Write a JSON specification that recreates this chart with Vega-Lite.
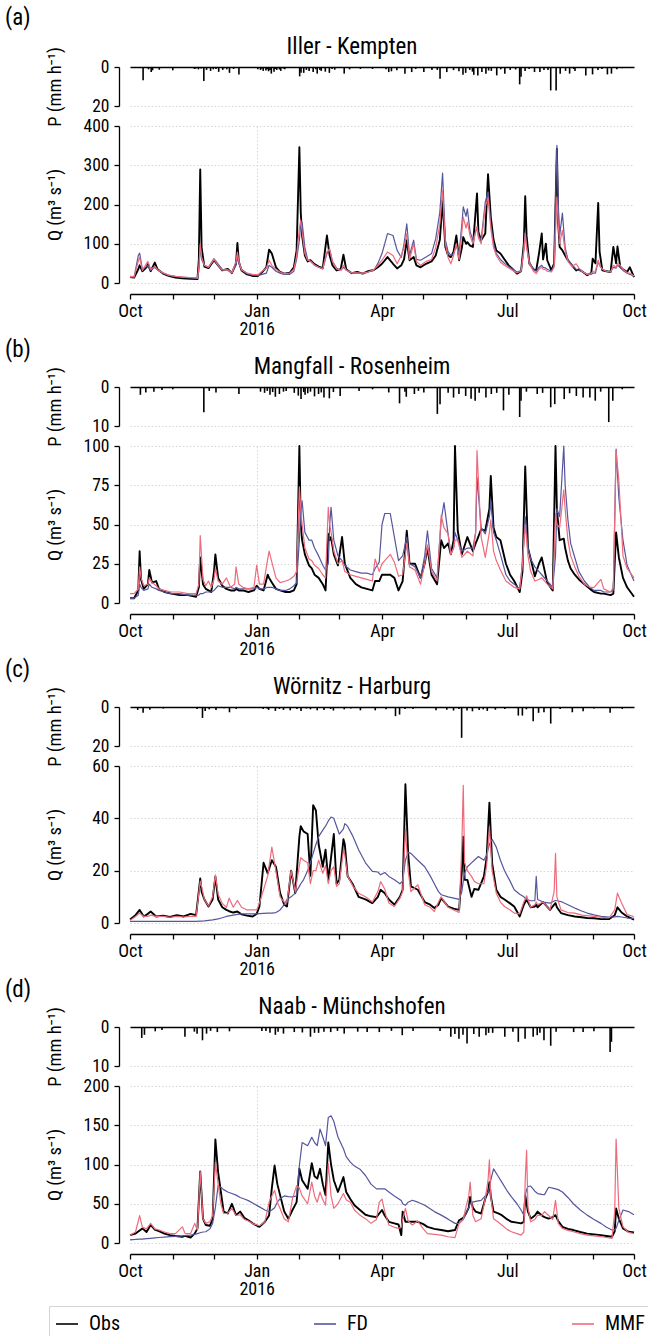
{
"$schema":"https://vega.github.io/schema/vega-lite/v6.json",
"padding":{"left":5,"top":6,"right":0,"bottom":0},
"background":"white",
"config":{
 "font":"Roboto Condensed, Liberation Sans Narrow, DejaVu Sans Condensed, Roboto, sans-serif",
 "view":{"stroke":null},
 "axis":{"domainColor":"#000","domainWidth":1.3,"tickColor":"#000","tickWidth":1.3,"tickSize":5,"labelColor":"#000","labelFontSize":19,"labelFlush":false,"labelOverlap":false,"titleColor":"#000","titleFontSize":18.5,"titleFontWeight":"normal","gridColor":"#cccccc","gridDash":[1.5,2],"gridWidth":0.8},
 "axisX":{"labelPadding":3,"labelFontSize":18},
 "axisY":{"labelPadding":5,"labelFontSize":17.5},
 "title":{"color":"#000","fontWeight":"normal"}
},
"datasets":{
"pa":[{"t":"2015-10-07","p":6.8},{"t":"2015-10-11","p":1.2},{"t":"2015-10-13","p":2.6},{"t":"2015-10-14","p":1.7},{"t":"2015-10-19","p":1.4},{"t":"2015-10-29","p":1.7},{"t":"2015-11-14","p":1},{"t":"2015-11-15","p":0.8},{"t":"2015-11-17","p":1.2},{"t":"2015-11-19","p":0.8},{"t":"2015-11-21","p":7.2},{"t":"2015-11-23","p":1.5},{"t":"2015-11-26","p":2},{"t":"2015-11-28","p":1.2},{"t":"2015-11-30","p":1},{"t":"2015-12-02","p":2.5},{"t":"2015-12-05","p":1.5},{"t":"2015-12-06","p":0.7},{"t":"2015-12-08","p":1.2},{"t":"2015-12-10","p":3},{"t":"2015-12-13","p":1},{"t":"2015-12-17","p":3.8},{"t":"2015-12-31","p":1.2},{"t":"2016-01-02","p":1.5},{"t":"2016-01-03","p":0.9},{"t":"2016-01-04","p":2},{"t":"2016-01-06","p":1.8},{"t":"2016-01-07","p":1.2},{"t":"2016-01-08","p":2.2},{"t":"2016-01-09","p":1.5},{"t":"2016-01-10","p":3.4},{"t":"2016-01-12","p":2.4},{"t":"2016-01-13","p":1},{"t":"2016-01-14","p":1.5},{"t":"2016-01-16","p":1.3},{"t":"2016-01-17","p":2},{"t":"2016-01-19","p":0.8},{"t":"2016-01-20","p":1.2},{"t":"2016-01-31","p":4.8},{"t":"2016-02-01","p":3},{"t":"2016-02-03","p":3},{"t":"2016-02-05","p":1.5},{"t":"2016-02-07","p":2},{"t":"2016-02-10","p":2.6},{"t":"2016-02-12","p":1.2},{"t":"2016-02-13","p":3.4},{"t":"2016-02-15","p":1.5},{"t":"2016-02-16","p":2},{"t":"2016-02-19","p":2.4},{"t":"2016-02-22","p":3},{"t":"2016-02-24","p":1},{"t":"2016-02-26","p":1.4},{"t":"2016-03-04","p":3.4},{"t":"2016-03-08","p":1.2},{"t":"2016-03-16","p":1},{"t":"2016-03-25","p":1},{"t":"2016-04-04","p":1.2},{"t":"2016-04-06","p":2.6},{"t":"2016-04-08","p":2.2},{"t":"2016-04-12","p":1.7},{"t":"2016-04-18","p":3.4},{"t":"2016-04-23","p":2.6},{"t":"2016-04-26","p":1},{"t":"2016-05-02","p":2.6},{"t":"2016-05-08","p":1.5},{"t":"2016-05-12","p":1.5},{"t":"2016-05-14","p":6},{"t":"2016-05-19","p":2.6},{"t":"2016-05-24","p":1.6},{"t":"2016-05-28","p":2.2},{"t":"2016-05-31","p":4},{"t":"2016-06-02","p":3},{"t":"2016-06-05","p":1.5},{"t":"2016-06-07","p":2.4},{"t":"2016-06-08","p":4},{"t":"2016-06-11","p":4.3},{"t":"2016-06-14","p":2.5},{"t":"2016-06-17","p":3.4},{"t":"2016-06-19","p":1.8},{"t":"2016-06-21","p":2},{"t":"2016-06-25","p":4.3},{"t":"2016-06-28","p":1.2},{"t":"2016-07-01","p":3.4},{"t":"2016-07-05","p":1.5},{"t":"2016-07-09","p":1.3},{"t":"2016-07-12","p":8.9},{"t":"2016-07-13","p":5},{"t":"2016-07-16","p":2},{"t":"2016-07-19","p":1},{"t":"2016-07-23","p":2.6},{"t":"2016-07-27","p":2.6},{"t":"2016-07-30","p":1.5},{"t":"2016-08-02","p":1.5},{"t":"2016-08-04","p":12},{"t":"2016-08-08","p":12},{"t":"2016-08-11","p":3.4},{"t":"2016-08-15","p":2},{"t":"2016-08-18","p":3.4},{"t":"2016-08-21","p":1},{"t":"2016-08-22","p":2},{"t":"2016-08-30","p":4.3},{"t":"2016-09-04","p":3.8},{"t":"2016-09-08","p":1.5},{"t":"2016-09-11","p":1},{"t":"2016-09-15","p":3.8},{"t":"2016-09-18","p":3.4},{"t":"2016-09-22","p":1.2},{"t":"2016-09-26","p":0.6}],
"qa":[{"t":"2015-10-01","Obs":15,"FD":14,"MMF":17},{"t":"2015-10-04","Obs":14,"FD":15,"MMF":16},{"t":"2015-10-07","Obs":35,"FD":70,"MMF":55},{"t":"2015-10-08","Obs":45,"FD":76,"MMF":65},{"t":"2015-10-10","Obs":30,"FD":35,"MMF":32},{"t":"2015-10-13","Obs":40,"FD":42,"MMF":50},{"t":"2015-10-14","Obs":48,"FD":45,"MMF":55},{"t":"2015-10-16","Obs":30,"FD":32,"MMF":35},{"t":"2015-10-19","Obs":52,"FD":40,"MMF":42},{"t":"2015-10-21","Obs":35,"FD":33,"MMF":34},{"t":"2015-10-25","Obs":24,"FD":25,"MMF":26},{"t":"2015-10-29","Obs":18,"FD":20,"MMF":20},{"t":"2015-11-03","Obs":14,"FD":17,"MMF":17},{"t":"2015-11-08","Obs":12,"FD":15,"MMF":15},{"t":"2015-11-14","Obs":11,"FD":13,"MMF":14},{"t":"2015-11-19","Obs":10,"FD":12,"MMF":13},{"t":"2015-11-20","Obs":60,"FD":30,"MMF":40},{"t":"2015-11-21","Obs":289,"FD":95,"MMF":100},{"t":"2015-11-22","Obs":90,"FD":60,"MMF":65},{"t":"2015-11-24","Obs":42,"FD":45,"MMF":45},{"t":"2015-11-27","Obs":38,"FD":40,"MMF":40},{"t":"2015-12-01","Obs":58,"FD":62,"MMF":60},{"t":"2015-12-04","Obs":45,"FD":48,"MMF":45},{"t":"2015-12-07","Obs":32,"FD":35,"MMF":33},{"t":"2015-12-11","Obs":36,"FD":32,"MMF":34},{"t":"2015-12-14","Obs":25,"FD":26,"MMF":26},{"t":"2015-12-17","Obs":50,"FD":45,"MMF":55},{"t":"2015-12-18","Obs":102,"FD":70,"MMF":79},{"t":"2015-12-19","Obs":55,"FD":50,"MMF":55},{"t":"2015-12-21","Obs":32,"FD":35,"MMF":33},{"t":"2015-12-25","Obs":22,"FD":24,"MMF":25},{"t":"2015-12-29","Obs":18,"FD":20,"MMF":22},{"t":"2016-01-02","Obs":18,"FD":19,"MMF":21},{"t":"2016-01-05","Obs":28,"FD":22,"MMF":30},{"t":"2016-01-08","Obs":40,"FD":25,"MMF":38},{"t":"2016-01-10","Obs":85,"FD":45,"MMF":58},{"t":"2016-01-12","Obs":75,"FD":40,"MMF":45},{"t":"2016-01-15","Obs":40,"FD":30,"MMF":35},{"t":"2016-01-18","Obs":28,"FD":25,"MMF":28},{"t":"2016-01-21","Obs":24,"FD":22,"MMF":24},{"t":"2016-01-25","Obs":26,"FD":22,"MMF":25},{"t":"2016-01-28","Obs":40,"FD":30,"MMF":35},{"t":"2016-01-30","Obs":83,"FD":60,"MMF":70},{"t":"2016-02-01","Obs":346,"FD":110,"MMF":140},{"t":"2016-02-02","Obs":180,"FD":150,"MMF":160},{"t":"2016-02-03","Obs":120,"FD":154,"MMF":130},{"t":"2016-02-05","Obs":70,"FD":90,"MMF":75},{"t":"2016-02-07","Obs":55,"FD":60,"MMF":58},{"t":"2016-02-09","Obs":58,"FD":55,"MMF":56},{"t":"2016-02-12","Obs":48,"FD":45,"MMF":46},{"t":"2016-02-15","Obs":42,"FD":40,"MMF":40},{"t":"2016-02-18","Obs":38,"FD":36,"MMF":36},{"t":"2016-02-21","Obs":121,"FD":75,"MMF":80},{"t":"2016-02-23","Obs":70,"FD":85,"MMF":87},{"t":"2016-02-25","Obs":45,"FD":55,"MMF":55},{"t":"2016-02-28","Obs":32,"FD":38,"MMF":36},{"t":"2016-03-02","Obs":35,"FD":32,"MMF":32},{"t":"2016-03-04","Obs":72,"FD":40,"MMF":45},{"t":"2016-03-06","Obs":35,"FD":33,"MMF":33},{"t":"2016-03-10","Obs":25,"FD":26,"MMF":26},{"t":"2016-03-14","Obs":28,"FD":25,"MMF":26},{"t":"2016-03-18","Obs":24,"FD":24,"MMF":25},{"t":"2016-03-22","Obs":30,"FD":28,"MMF":28},{"t":"2016-03-26","Obs":33,"FD":32,"MMF":34},{"t":"2016-03-29","Obs":40,"FD":50,"MMF":45},{"t":"2016-04-01","Obs":49,"FD":75,"MMF":58},{"t":"2016-04-05","Obs":66,"FD":126,"MMF":79},{"t":"2016-04-09","Obs":49,"FD":121,"MMF":70},{"t":"2016-04-12","Obs":37,"FD":83,"MMF":49},{"t":"2016-04-15","Obs":45,"FD":65,"MMF":70},{"t":"2016-04-17","Obs":60,"FD":100,"MMF":90},{"t":"2016-04-19","Obs":109,"FD":151,"MMF":126},{"t":"2016-04-21","Obs":58,"FD":70,"MMF":60},{"t":"2016-04-24","Obs":66,"FD":109,"MMF":100},{"t":"2016-04-26","Obs":45,"FD":60,"MMF":55},{"t":"2016-04-29","Obs":40,"FD":58,"MMF":45},{"t":"2016-05-03","Obs":49,"FD":66,"MMF":55},{"t":"2016-05-07","Obs":55,"FD":75,"MMF":60},{"t":"2016-05-10","Obs":70,"FD":113,"MMF":90},{"t":"2016-05-13","Obs":110,"FD":180,"MMF":150},{"t":"2016-05-15","Obs":210,"FD":280,"MMF":236},{"t":"2016-05-17","Obs":92,"FD":110,"MMF":100},{"t":"2016-05-19","Obs":70,"FD":80,"MMF":65},{"t":"2016-05-21","Obs":66,"FD":70,"MMF":49},{"t":"2016-05-23","Obs":80,"FD":75,"MMF":70},{"t":"2016-05-25","Obs":121,"FD":95,"MMF":100},{"t":"2016-05-27","Obs":58,"FD":75,"MMF":60},{"t":"2016-05-29","Obs":90,"FD":150,"MMF":130},{"t":"2016-05-30","Obs":117,"FD":194,"MMF":168},{"t":"2016-06-01","Obs":100,"FD":170,"MMF":140},{"t":"2016-06-02","Obs":104,"FD":189,"MMF":155},{"t":"2016-06-04","Obs":95,"FD":130,"MMF":120},{"t":"2016-06-06","Obs":92,"FD":110,"MMF":100},{"t":"2016-06-09","Obs":228,"FD":143,"MMF":143},{"t":"2016-06-10","Obs":130,"FD":120,"MMF":115},{"t":"2016-06-12","Obs":109,"FD":110,"MMF":100},{"t":"2016-06-15","Obs":126,"FD":206,"MMF":194},{"t":"2016-06-17","Obs":277,"FD":232,"MMF":219},{"t":"2016-06-19","Obs":168,"FD":150,"MMF":140},{"t":"2016-06-21","Obs":110,"FD":100,"MMF":90},{"t":"2016-06-23","Obs":83,"FD":75,"MMF":70},{"t":"2016-06-26","Obs":75,"FD":60,"MMF":53},{"t":"2016-06-29","Obs":60,"FD":50,"MMF":45},{"t":"2016-07-02","Obs":45,"FD":42,"MMF":38},{"t":"2016-07-05","Obs":35,"FD":35,"MMF":32},{"t":"2016-07-08","Obs":24,"FD":28,"MMF":26},{"t":"2016-07-11","Obs":30,"FD":32,"MMF":30},{"t":"2016-07-13","Obs":100,"FD":90,"MMF":80},{"t":"2016-07-14","Obs":221,"FD":130,"MMF":126},{"t":"2016-07-15","Obs":120,"FD":95,"MMF":90},{"t":"2016-07-17","Obs":49,"FD":55,"MMF":50},{"t":"2016-07-20","Obs":35,"FD":35,"MMF":30},{"t":"2016-07-22","Obs":32,"FD":30,"MMF":24},{"t":"2016-07-24","Obs":75,"FD":40,"MMF":35},{"t":"2016-07-26","Obs":126,"FD":45,"MMF":40},{"t":"2016-07-27","Obs":60,"FD":40,"MMF":35},{"t":"2016-07-29","Obs":100,"FD":38,"MMF":33},{"t":"2016-07-30","Obs":58,"FD":35,"MMF":30},{"t":"2016-08-02","Obs":32,"FD":30,"MMF":28},{"t":"2016-08-04","Obs":50,"FD":45,"MMF":40},{"t":"2016-08-06","Obs":342,"FD":351,"MMF":219},{"t":"2016-08-07","Obs":150,"FD":200,"MMF":150},{"t":"2016-08-08","Obs":92,"FD":120,"MMF":100},{"t":"2016-08-10","Obs":83,"FD":178,"MMF":134},{"t":"2016-08-12","Obs":70,"FD":90,"MMF":80},{"t":"2016-08-14","Obs":58,"FD":60,"MMF":55},{"t":"2016-08-17","Obs":45,"FD":45,"MMF":42},{"t":"2016-08-20","Obs":32,"FD":35,"MMF":49},{"t":"2016-08-22","Obs":35,"FD":32,"MMF":38},{"t":"2016-08-25","Obs":28,"FD":28,"MMF":28},{"t":"2016-08-28","Obs":20,"FD":22,"MMF":22},{"t":"2016-08-31","Obs":25,"FD":22,"MMF":24},{"t":"2016-09-01","Obs":62,"FD":25,"MMF":30},{"t":"2016-09-03","Obs":50,"FD":25,"MMF":30},{"t":"2016-09-05","Obs":204,"FD":55,"MMF":58},{"t":"2016-09-06","Obs":80,"FD":45,"MMF":45},{"t":"2016-09-08","Obs":32,"FD":35,"MMF":35},{"t":"2016-09-11","Obs":30,"FD":30,"MMF":30},{"t":"2016-09-14","Obs":28,"FD":28,"MMF":28},{"t":"2016-09-16","Obs":92,"FD":40,"MMF":45},{"t":"2016-09-18","Obs":50,"FD":38,"MMF":40},{"t":"2016-09-19","Obs":93,"FD":45,"MMF":50},{"t":"2016-09-21","Obs":41,"FD":40,"MMF":45},{"t":"2016-09-23","Obs":35,"FD":32,"MMF":35},{"t":"2016-09-26","Obs":28,"FD":25,"MMF":26},{"t":"2016-09-28","Obs":40,"FD":22,"MMF":25},{"t":"2016-10-01","Obs":15,"FD":18,"MMF":18}],
"pb":[{"t":"2015-10-05","p":2},{"t":"2015-10-09","p":1.4},{"t":"2015-10-15","p":1.2},{"t":"2015-10-21","p":0.8},{"t":"2015-10-29","p":0.6},{"t":"2015-11-21","p":6.5},{"t":"2015-11-25","p":1},{"t":"2015-11-30","p":1.4},{"t":"2015-12-17","p":1.8},{"t":"2016-01-02","p":1.2},{"t":"2016-01-05","p":1.5},{"t":"2016-01-07","p":1},{"t":"2016-01-09","p":2},{"t":"2016-01-11","p":1.3},{"t":"2016-01-13","p":2.5},{"t":"2016-01-16","p":1.8},{"t":"2016-01-19","p":1.2},{"t":"2016-01-21","p":1},{"t":"2016-01-27","p":1.5},{"t":"2016-01-30","p":2.2},{"t":"2016-02-01","p":3.1},{"t":"2016-02-03","p":1.3},{"t":"2016-02-04","p":2},{"t":"2016-02-06","p":1.6},{"t":"2016-02-08","p":1.2},{"t":"2016-02-11","p":2.4},{"t":"2016-02-14","p":1.8},{"t":"2016-02-16","p":1.4},{"t":"2016-02-18","p":2.7},{"t":"2016-02-22","p":2.9},{"t":"2016-02-25","p":1.3},{"t":"2016-03-01","p":2.3},{"t":"2016-03-15","p":1},{"t":"2016-03-25","p":0.6},{"t":"2016-04-06","p":1.4},{"t":"2016-04-14","p":4.2},{"t":"2016-04-18","p":1.2},{"t":"2016-04-19","p":2.5},{"t":"2016-04-25","p":1.8},{"t":"2016-04-28","p":1},{"t":"2016-05-02","p":1.4},{"t":"2016-05-12","p":6.9},{"t":"2016-05-14","p":4.4},{"t":"2016-05-20","p":1.5},{"t":"2016-05-24","p":2.7},{"t":"2016-05-28","p":1.8},{"t":"2016-06-02","p":2.3},{"t":"2016-06-06","p":3},{"t":"2016-06-09","p":3.5},{"t":"2016-06-12","p":1.5},{"t":"2016-06-17","p":2.7},{"t":"2016-06-21","p":1.8},{"t":"2016-06-25","p":1.5},{"t":"2016-06-30","p":6},{"t":"2016-07-04","p":2},{"t":"2016-07-12","p":7.7},{"t":"2016-07-13","p":3.5},{"t":"2016-07-17","p":1.2},{"t":"2016-07-25","p":1.8},{"t":"2016-07-29","p":1.5},{"t":"2016-08-04","p":5.2},{"t":"2016-08-07","p":4.4},{"t":"2016-08-14","p":3.1},{"t":"2016-08-18","p":1.6},{"t":"2016-08-23","p":2.3},{"t":"2016-08-28","p":2.7},{"t":"2016-09-02","p":2.7},{"t":"2016-09-06","p":3.5},{"t":"2016-09-10","p":1.2},{"t":"2016-09-16","p":9},{"t":"2016-09-19","p":3.5},{"t":"2016-09-26","p":0.6}],
"qb":[{"t":"2015-10-01","Obs":3,"FD":3,"MMF":6},{"t":"2015-10-04","Obs":3,"FD":3,"MMF":6},{"t":"2015-10-07","Obs":8,"FD":5,"MMF":9},{"t":"2015-10-08","Obs":33,"FD":12,"MMF":23},{"t":"2015-10-09","Obs":15,"FD":10,"MMF":16},{"t":"2015-10-11","Obs":9,"FD":8,"MMF":11},{"t":"2015-10-14","Obs":12,"FD":9,"MMF":12},{"t":"2015-10-15","Obs":21,"FD":12,"MMF":16},{"t":"2015-10-17","Obs":13,"FD":10,"MMF":13},{"t":"2015-10-20","Obs":14,"FD":9,"MMF":11},{"t":"2015-10-22","Obs":9,"FD":8,"MMF":9},{"t":"2015-10-26","Obs":7,"FD":7,"MMF":8},{"t":"2015-10-31","Obs":6,"FD":6,"MMF":7},{"t":"2015-11-06","Obs":5,"FD":6,"MMF":7},{"t":"2015-11-12","Obs":5,"FD":5,"MMF":6},{"t":"2015-11-18","Obs":4,"FD":5,"MMF":6},{"t":"2015-11-20","Obs":10,"FD":5,"MMF":12},{"t":"2015-11-21","Obs":29,"FD":6,"MMF":43},{"t":"2015-11-23","Obs":12,"FD":6,"MMF":15},{"t":"2015-11-25","Obs":9,"FD":7,"MMF":11},{"t":"2015-11-27","Obs":8,"FD":7,"MMF":14},{"t":"2015-11-29","Obs":7,"FD":7,"MMF":10},{"t":"2015-12-01","Obs":20,"FD":8,"MMF":15},{"t":"2015-12-02","Obs":31,"FD":9,"MMF":22},{"t":"2015-12-04","Obs":16,"FD":11,"MMF":14},{"t":"2015-12-07","Obs":11,"FD":10,"MMF":12},{"t":"2015-12-10","Obs":9,"FD":10,"MMF":16},{"t":"2015-12-13","Obs":8,"FD":10,"MMF":10},{"t":"2015-12-16","Obs":8,"FD":9,"MMF":12},{"t":"2015-12-17","Obs":9,"FD":10,"MMF":23},{"t":"2015-12-19","Obs":8,"FD":9,"MMF":12},{"t":"2015-12-22","Obs":8,"FD":9,"MMF":10},{"t":"2015-12-26","Obs":7,"FD":9,"MMF":9},{"t":"2015-12-30","Obs":8,"FD":9,"MMF":10},{"t":"2016-01-01","Obs":11,"FD":10,"MMF":24},{"t":"2016-01-03","Obs":9,"FD":9,"MMF":12},{"t":"2016-01-06","Obs":8,"FD":9,"MMF":12},{"t":"2016-01-09","Obs":18,"FD":10,"MMF":28},{"t":"2016-01-10","Obs":16,"FD":10,"MMF":33},{"t":"2016-01-12","Obs":13,"FD":10,"MMF":26},{"t":"2016-01-15","Obs":9,"FD":9,"MMF":16},{"t":"2016-01-18","Obs":8,"FD":8,"MMF":13},{"t":"2016-01-22","Obs":7,"FD":8,"MMF":14},{"t":"2016-01-25","Obs":7,"FD":9,"MMF":15},{"t":"2016-01-28","Obs":8,"FD":11,"MMF":17},{"t":"2016-01-30","Obs":12,"FD":13,"MMF":20},{"t":"2016-02-01","Obs":100,"FD":40,"MMF":74},{"t":"2016-02-02","Obs":50,"FD":58,"MMF":60},{"t":"2016-02-03","Obs":40,"FD":65,"MMF":50},{"t":"2016-02-05","Obs":31,"FD":45,"MMF":35},{"t":"2016-02-08","Obs":24,"FD":40,"MMF":28},{"t":"2016-02-10","Obs":22,"FD":40,"MMF":27},{"t":"2016-02-12","Obs":18,"FD":35,"MMF":24},{"t":"2016-02-15","Obs":16,"FD":30,"MMF":22},{"t":"2016-02-18","Obs":12,"FD":24,"MMF":18},{"t":"2016-02-20","Obs":8,"FD":21,"MMF":16},{"t":"2016-02-22","Obs":44,"FD":25,"MMF":61},{"t":"2016-02-23","Obs":40,"FD":50,"MMF":50},{"t":"2016-02-24","Obs":42,"FD":61,"MMF":45},{"t":"2016-02-26","Obs":31,"FD":40,"MMF":33},{"t":"2016-02-29","Obs":24,"FD":30,"MMF":25},{"t":"2016-03-03","Obs":42,"FD":27,"MMF":27},{"t":"2016-03-05","Obs":25,"FD":24,"MMF":20},{"t":"2016-03-09","Obs":16,"FD":21,"MMF":18},{"t":"2016-03-13","Obs":12,"FD":20,"MMF":17},{"t":"2016-03-17","Obs":10,"FD":19,"MMF":16},{"t":"2016-03-21","Obs":9,"FD":19,"MMF":15},{"t":"2016-03-25","Obs":8,"FD":18,"MMF":14},{"t":"2016-03-27","Obs":14,"FD":22,"MMF":28},{"t":"2016-03-30","Obs":14,"FD":26,"MMF":20},{"t":"2016-04-01","Obs":18,"FD":50,"MMF":25},{"t":"2016-04-03","Obs":18,"FD":57,"MMF":27},{"t":"2016-04-07","Obs":18,"FD":57,"MMF":31},{"t":"2016-04-10","Obs":16,"FD":42,"MMF":26},{"t":"2016-04-13","Obs":8,"FD":27,"MMF":17},{"t":"2016-04-16","Obs":14,"FD":30,"MMF":18},{"t":"2016-04-19","Obs":46,"FD":42,"MMF":38},{"t":"2016-04-21","Obs":25,"FD":25,"MMF":23},{"t":"2016-04-25","Obs":25,"FD":23,"MMF":21},{"t":"2016-04-29","Obs":16,"FD":16,"MMF":12},{"t":"2016-05-02","Obs":25,"FD":30,"MMF":25},{"t":"2016-05-04","Obs":35,"FD":46,"MMF":37},{"t":"2016-05-07","Obs":18,"FD":22,"MMF":20},{"t":"2016-05-11","Obs":12,"FD":16,"MMF":14},{"t":"2016-05-14","Obs":40,"FD":53,"MMF":56},{"t":"2016-05-16","Obs":35,"FD":64,"MMF":48},{"t":"2016-05-19","Obs":38,"FD":44,"MMF":44},{"t":"2016-05-21","Obs":31,"FD":31,"MMF":31},{"t":"2016-05-23","Obs":40,"FD":35,"MMF":35},{"t":"2016-05-24","Obs":100,"FD":45,"MMF":40},{"t":"2016-05-26","Obs":46,"FD":40,"MMF":40},{"t":"2016-05-29","Obs":31,"FD":33,"MMF":29},{"t":"2016-06-02","Obs":42,"FD":35,"MMF":33},{"t":"2016-06-06","Obs":33,"FD":35,"MMF":30},{"t":"2016-06-08","Obs":38,"FD":45,"MMF":45},{"t":"2016-06-09","Obs":40,"FD":80,"MMF":97},{"t":"2016-06-12","Obs":47,"FD":48,"MMF":42},{"t":"2016-06-15","Obs":46,"FD":44,"MMF":29},{"t":"2016-06-18","Obs":60,"FD":55,"MMF":45},{"t":"2016-06-19","Obs":81,"FD":65,"MMF":53},{"t":"2016-06-21","Obs":48,"FD":45,"MMF":33},{"t":"2016-06-23","Obs":42,"FD":40,"MMF":27},{"t":"2016-06-26","Obs":40,"FD":31,"MMF":21},{"t":"2016-06-30","Obs":25,"FD":18,"MMF":14},{"t":"2016-07-03","Obs":18,"FD":14,"MMF":12},{"t":"2016-07-06","Obs":14,"FD":12,"MMF":10},{"t":"2016-07-10","Obs":7,"FD":9,"MMF":9},{"t":"2016-07-12","Obs":20,"FD":25,"MMF":25},{"t":"2016-07-14","Obs":87,"FD":55,"MMF":50},{"t":"2016-07-16","Obs":35,"FD":35,"MMF":30},{"t":"2016-07-18","Obs":28,"FD":28,"MMF":20},{"t":"2016-07-21","Obs":17,"FD":23,"MMF":14},{"t":"2016-07-24","Obs":25,"FD":20,"MMF":15},{"t":"2016-07-26","Obs":29,"FD":18,"MMF":16},{"t":"2016-07-30","Obs":13,"FD":14,"MMF":12},{"t":"2016-08-03","Obs":8,"FD":10,"MMF":9},{"t":"2016-08-05","Obs":100,"FD":30,"MMF":57},{"t":"2016-08-06","Obs":60,"FD":60,"MMF":50},{"t":"2016-08-08","Obs":40,"FD":55,"MMF":48},{"t":"2016-08-11","Obs":41,"FD":100,"MMF":72},{"t":"2016-08-12","Obs":35,"FD":75,"MMF":60},{"t":"2016-08-14","Obs":27,"FD":53,"MMF":40},{"t":"2016-08-16","Obs":22,"FD":38,"MMF":30},{"t":"2016-08-19","Obs":18,"FD":29,"MMF":23},{"t":"2016-08-22","Obs":15,"FD":20,"MMF":17},{"t":"2016-08-26","Obs":12,"FD":14,"MMF":12},{"t":"2016-08-30","Obs":9,"FD":10,"MMF":10},{"t":"2016-09-02","Obs":7,"FD":8,"MMF":10},{"t":"2016-09-07","Obs":6,"FD":8,"MMF":15},{"t":"2016-09-09","Obs":6,"FD":7,"MMF":9},{"t":"2016-09-14","Obs":5,"FD":7,"MMF":7},{"t":"2016-09-16","Obs":6,"FD":8,"MMF":10},{"t":"2016-09-18","Obs":45,"FD":98,"MMF":97},{"t":"2016-09-20","Obs":29,"FD":67,"MMF":78},{"t":"2016-09-23","Obs":16,"FD":40,"MMF":30},{"t":"2016-09-26","Obs":10,"FD":24,"MMF":22},{"t":"2016-10-01","Obs":4,"FD":14,"MMF":16}],
"pc":[{"t":"2015-10-03","p":1.5},{"t":"2015-10-07","p":3},{"t":"2015-10-12","p":1.4},{"t":"2015-10-22","p":0.8},{"t":"2015-11-10","p":0.5},{"t":"2015-11-16","p":1},{"t":"2015-11-20","p":5.6},{"t":"2015-11-22","p":2},{"t":"2015-11-25","p":1.2},{"t":"2015-11-30","p":1.5},{"t":"2015-12-06","p":0.7},{"t":"2015-12-10","p":2.7},{"t":"2015-12-15","p":1},{"t":"2016-01-04","p":1},{"t":"2016-01-07","p":0.8},{"t":"2016-01-08","p":1.5},{"t":"2016-01-13","p":2},{"t":"2016-01-16","p":1},{"t":"2016-01-19","p":1.5},{"t":"2016-01-24","p":1.7},{"t":"2016-01-29","p":1},{"t":"2016-02-01","p":2},{"t":"2016-02-05","p":0.8},{"t":"2016-02-08","p":1.2},{"t":"2016-02-13","p":1.7},{"t":"2016-02-18","p":1.5},{"t":"2016-02-23","p":1},{"t":"2016-02-25","p":1.8},{"t":"2016-03-04","p":1.2},{"t":"2016-03-09","p":0.8},{"t":"2016-03-16","p":1.7},{"t":"2016-03-27","p":1.7},{"t":"2016-04-04","p":1.2},{"t":"2016-04-11","p":4.7},{"t":"2016-04-14","p":3.9},{"t":"2016-04-18","p":1},{"t":"2016-04-24","p":1},{"t":"2016-05-11","p":1.7},{"t":"2016-05-19","p":1.4},{"t":"2016-05-24","p":1.8},{"t":"2016-05-28","p":1},{"t":"2016-05-30","p":15.8},{"t":"2016-06-03","p":1.8},{"t":"2016-06-07","p":2.2},{"t":"2016-06-12","p":1.5},{"t":"2016-06-15","p":1.2},{"t":"2016-06-18","p":2},{"t":"2016-06-24","p":1.4},{"t":"2016-07-01","p":1},{"t":"2016-07-11","p":4.4},{"t":"2016-07-14","p":4.4},{"t":"2016-07-17","p":1.2},{"t":"2016-07-22","p":7.3},{"t":"2016-07-26","p":3},{"t":"2016-07-30","p":2.7},{"t":"2016-08-04","p":8.5},{"t":"2016-08-11","p":1},{"t":"2016-08-20","p":2.7},{"t":"2016-08-28","p":2.2},{"t":"2016-09-05","p":0.8},{"t":"2016-09-17","p":3},{"t":"2016-09-26","p":1}],
"qc":[{"t":"2015-10-01","Obs":1.3,"FD":0.6,"MMF":1},{"t":"2015-10-05","Obs":3,"FD":0.6,"MMF":2.5},{"t":"2015-10-08","Obs":5,"FD":0.6,"MMF":3.8},{"t":"2015-10-11","Obs":2.5,"FD":0.6,"MMF":2.5},{"t":"2015-10-14","Obs":3.5,"FD":0.6,"MMF":2.5},{"t":"2015-10-16","Obs":4.4,"FD":0.6,"MMF":3},{"t":"2015-10-20","Obs":2.5,"FD":0.6,"MMF":2.5},{"t":"2015-10-25","Obs":2.8,"FD":0.6,"MMF":2.5},{"t":"2015-10-30","Obs":2.3,"FD":0.6,"MMF":2.2},{"t":"2015-11-04","Obs":3,"FD":0.6,"MMF":2.5},{"t":"2015-11-09","Obs":2.5,"FD":0.6,"MMF":2.3},{"t":"2015-11-14","Obs":3.5,"FD":0.6,"MMF":2.5},{"t":"2015-11-18","Obs":3,"FD":0.6,"MMF":2.5},{"t":"2015-11-21","Obs":17,"FD":0.7,"MMF":16},{"t":"2015-11-22","Obs":12,"FD":0.7,"MMF":14},{"t":"2015-11-24","Obs":9,"FD":0.8,"MMF":9},{"t":"2015-11-27","Obs":6.3,"FD":1,"MMF":6.5},{"t":"2015-11-30","Obs":9,"FD":1.2,"MMF":10},{"t":"2015-12-02","Obs":17.7,"FD":1.4,"MMF":18.4},{"t":"2015-12-04","Obs":9,"FD":1.6,"MMF":11},{"t":"2015-12-07","Obs":6,"FD":2,"MMF":7.5},{"t":"2015-12-10","Obs":5,"FD":2.5,"MMF":6},{"t":"2015-12-12","Obs":4.5,"FD":2.7,"MMF":9.5},{"t":"2015-12-15","Obs":4,"FD":3,"MMF":6},{"t":"2015-12-18","Obs":4.4,"FD":3.3,"MMF":8.6},{"t":"2015-12-21","Obs":3.3,"FD":3.5,"MMF":6},{"t":"2015-12-25","Obs":2.8,"FD":3.5,"MMF":5},{"t":"2015-12-29","Obs":2.5,"FD":3.5,"MMF":5},{"t":"2016-01-01","Obs":3.5,"FD":3.5,"MMF":5},{"t":"2016-01-03","Obs":6.3,"FD":3.6,"MMF":7.6},{"t":"2016-01-06","Obs":23,"FD":3.7,"MMF":12.7},{"t":"2016-01-09","Obs":19,"FD":3.8,"MMF":18},{"t":"2016-01-12","Obs":24,"FD":3.8,"MMF":29},{"t":"2016-01-15","Obs":21.5,"FD":4,"MMF":19.7},{"t":"2016-01-18","Obs":11.4,"FD":5,"MMF":10},{"t":"2016-01-21","Obs":7,"FD":7,"MMF":8},{"t":"2016-01-23","Obs":6.3,"FD":9,"MMF":8},{"t":"2016-01-26","Obs":20,"FD":10,"MMF":20},{"t":"2016-01-29","Obs":11.4,"FD":11.4,"MMF":12},{"t":"2016-02-01","Obs":33,"FD":14,"MMF":22},{"t":"2016-02-02","Obs":37,"FD":15,"MMF":25},{"t":"2016-02-04","Obs":35,"FD":16.5,"MMF":24},{"t":"2016-02-07","Obs":34,"FD":20,"MMF":23},{"t":"2016-02-09","Obs":18,"FD":23,"MMF":15},{"t":"2016-02-11","Obs":45,"FD":26.6,"MMF":20},{"t":"2016-02-13","Obs":43,"FD":30,"MMF":20},{"t":"2016-02-15","Obs":30,"FD":33,"MMF":24},{"t":"2016-02-18","Obs":21.5,"FD":35.5,"MMF":19},{"t":"2016-02-20","Obs":28,"FD":37,"MMF":22},{"t":"2016-02-22","Obs":16.5,"FD":39,"MMF":15},{"t":"2016-02-24","Obs":25,"FD":40.5,"MMF":20},{"t":"2016-02-26","Obs":34,"FD":40,"MMF":21.5},{"t":"2016-02-28","Obs":15,"FD":37,"MMF":14},{"t":"2016-03-01","Obs":16.5,"FD":34,"MMF":15},{"t":"2016-03-04","Obs":32,"FD":36,"MMF":28},{"t":"2016-03-05","Obs":30,"FD":38,"MMF":26},{"t":"2016-03-07","Obs":18,"FD":37,"MMF":18},{"t":"2016-03-11","Obs":14.6,"FD":33,"MMF":14},{"t":"2016-03-15","Obs":10,"FD":28,"MMF":11.4},{"t":"2016-03-20","Obs":9,"FD":23,"MMF":10},{"t":"2016-03-25","Obs":7.6,"FD":19.7,"MMF":8},{"t":"2016-03-29","Obs":10,"FD":19.5,"MMF":12},{"t":"2016-03-31","Obs":12.7,"FD":18.4,"MMF":15.8},{"t":"2016-04-03","Obs":11.4,"FD":19.3,"MMF":13},{"t":"2016-04-06","Obs":9,"FD":17.8,"MMF":7.6},{"t":"2016-04-10","Obs":7,"FD":16.5,"MMF":6.3},{"t":"2016-04-14","Obs":10,"FD":15,"MMF":9.5},{"t":"2016-04-16","Obs":12.7,"FD":16,"MMF":12},{"t":"2016-04-18","Obs":53,"FD":24,"MMF":36},{"t":"2016-04-20","Obs":26.6,"FD":27,"MMF":20},{"t":"2016-04-22","Obs":14,"FD":26.6,"MMF":12},{"t":"2016-04-27","Obs":12.7,"FD":24,"MMF":14.6},{"t":"2016-05-02","Obs":8,"FD":21.5,"MMF":7},{"t":"2016-05-06","Obs":7,"FD":18,"MMF":6},{"t":"2016-05-09","Obs":5.7,"FD":15,"MMF":4.4},{"t":"2016-05-12","Obs":7,"FD":12,"MMF":8},{"t":"2016-05-14","Obs":9.5,"FD":10.8,"MMF":10},{"t":"2016-05-19","Obs":6.3,"FD":10,"MMF":6},{"t":"2016-05-23","Obs":5.5,"FD":9.5,"MMF":5},{"t":"2016-05-27","Obs":5,"FD":9,"MMF":4},{"t":"2016-05-29","Obs":20,"FD":12,"MMF":30},{"t":"2016-05-30","Obs":33,"FD":16,"MMF":52.6},{"t":"2016-05-31","Obs":16.5,"FD":19,"MMF":23},{"t":"2016-06-02","Obs":16.5,"FD":21.5,"MMF":20},{"t":"2016-06-05","Obs":10,"FD":23,"MMF":17.8},{"t":"2016-06-07","Obs":13,"FD":24,"MMF":16},{"t":"2016-06-10","Obs":12.7,"FD":25.4,"MMF":15},{"t":"2016-06-14","Obs":17.8,"FD":24,"MMF":15},{"t":"2016-06-16","Obs":25,"FD":26,"MMF":22},{"t":"2016-06-18","Obs":46,"FD":30,"MMF":36.8},{"t":"2016-06-20","Obs":22.8,"FD":32,"MMF":20},{"t":"2016-06-23","Obs":12.7,"FD":29,"MMF":11.4},{"t":"2016-06-26","Obs":10,"FD":24,"MMF":8},{"t":"2016-06-29","Obs":9,"FD":20,"MMF":6.3},{"t":"2016-07-03","Obs":7.5,"FD":16,"MMF":5},{"t":"2016-07-06","Obs":6.3,"FD":12.7,"MMF":3.8},{"t":"2016-07-10","Obs":2.5,"FD":11,"MMF":3.5},{"t":"2016-07-13","Obs":7,"FD":10,"MMF":8},{"t":"2016-07-15","Obs":9,"FD":9,"MMF":10.4},{"t":"2016-07-18","Obs":6,"FD":8.5,"MMF":6},{"t":"2016-07-21","Obs":6.3,"FD":8.5,"MMF":7},{"t":"2016-07-22","Obs":7,"FD":17.8,"MMF":8},{"t":"2016-07-23","Obs":6,"FD":9,"MMF":7},{"t":"2016-07-27","Obs":8,"FD":8,"MMF":8},{"t":"2016-08-01","Obs":5,"FD":7.6,"MMF":5},{"t":"2016-08-04","Obs":7,"FD":8.4,"MMF":12},{"t":"2016-08-05","Obs":7.6,"FD":8.6,"MMF":26.6},{"t":"2016-08-06","Obs":6,"FD":8.5,"MMF":10},{"t":"2016-08-09","Obs":3.8,"FD":8.2,"MMF":5},{"t":"2016-08-14","Obs":3,"FD":7,"MMF":4},{"t":"2016-08-19","Obs":2.5,"FD":5.7,"MMF":3.8},{"t":"2016-08-24","Obs":2.2,"FD":4.6,"MMF":3},{"t":"2016-08-28","Obs":1.9,"FD":3.8,"MMF":2.8},{"t":"2016-09-02","Obs":1.8,"FD":3.1,"MMF":2.5},{"t":"2016-09-07","Obs":1.5,"FD":2.5,"MMF":2.2},{"t":"2016-09-13","Obs":1.5,"FD":2.3,"MMF":2},{"t":"2016-09-17","Obs":3,"FD":2.3,"MMF":5},{"t":"2016-09-19","Obs":6,"FD":2.5,"MMF":11.4},{"t":"2016-09-22","Obs":4,"FD":2.3,"MMF":7.6},{"t":"2016-09-26","Obs":2.5,"FD":1.9,"MMF":3.2},{"t":"2016-10-01","Obs":1.3,"FD":1.8,"MMF":2.5}],
"pd":[{"t":"2015-10-06","p":2.8},{"t":"2015-10-08","p":2},{"t":"2015-10-16","p":1.1},{"t":"2015-10-21","p":0.8},{"t":"2015-11-07","p":2.5},{"t":"2015-11-14","p":1.2},{"t":"2015-11-16","p":1.7},{"t":"2015-11-20","p":3.4},{"t":"2015-11-23","p":1.7},{"t":"2015-11-26","p":1},{"t":"2015-12-01","p":1.3},{"t":"2015-12-10","p":1.1},{"t":"2016-01-03","p":1},{"t":"2016-01-06","p":1},{"t":"2016-01-09","p":1.5},{"t":"2016-01-13","p":2},{"t":"2016-01-15","p":1.2},{"t":"2016-01-19","p":1.7},{"t":"2016-01-27","p":1.3},{"t":"2016-02-02","p":1.4},{"t":"2016-02-08","p":2.5},{"t":"2016-02-11","p":1.5},{"t":"2016-02-14","p":1.5},{"t":"2016-02-18","p":1.2},{"t":"2016-02-23","p":1.3},{"t":"2016-02-28","p":1},{"t":"2016-03-04","p":1.7},{"t":"2016-03-14","p":1.2},{"t":"2016-03-21","p":1.3},{"t":"2016-03-30","p":1.3},{"t":"2016-04-08","p":1},{"t":"2016-04-16","p":2.1},{"t":"2016-04-24","p":1},{"t":"2016-05-14","p":1},{"t":"2016-05-22","p":2.5},{"t":"2016-05-25","p":1.8},{"t":"2016-05-28","p":3},{"t":"2016-05-31","p":2},{"t":"2016-06-03","p":4.2},{"t":"2016-06-08","p":1.8},{"t":"2016-06-12","p":2.5},{"t":"2016-06-17","p":2.1},{"t":"2016-06-19","p":1.5},{"t":"2016-06-22","p":1.5},{"t":"2016-07-01","p":2.5},{"t":"2016-07-07","p":1.2},{"t":"2016-07-11","p":3.8},{"t":"2016-07-16","p":3},{"t":"2016-07-22","p":2.5},{"t":"2016-07-25","p":2.1},{"t":"2016-07-27","p":1.5},{"t":"2016-07-30","p":3.4},{"t":"2016-08-04","p":4.8},{"t":"2016-08-08","p":1.2},{"t":"2016-08-21","p":1.3},{"t":"2016-08-28","p":1.3},{"t":"2016-09-05","p":1.1},{"t":"2016-09-17","p":6.4},{"t":"2016-09-18","p":3.8}],
"qd":[{"t":"2015-10-01","Obs":10,"FD":4,"MMF":10},{"t":"2015-10-05","Obs":12,"FD":4.5,"MMF":14},{"t":"2015-10-08","Obs":16,"FD":5,"MMF":35},{"t":"2015-10-10","Obs":18.6,"FD":5,"MMF":20},{"t":"2015-10-13","Obs":14,"FD":5.5,"MMF":18},{"t":"2015-10-16","Obs":23,"FD":6,"MMF":25},{"t":"2015-10-19","Obs":17,"FD":6.5,"MMF":18},{"t":"2015-10-22","Obs":15,"FD":7,"MMF":16.5},{"t":"2015-10-26","Obs":12,"FD":7.5,"MMF":14},{"t":"2015-10-30","Obs":10,"FD":8,"MMF":12},{"t":"2015-11-03","Obs":9,"FD":8.5,"MMF":12},{"t":"2015-11-08","Obs":8,"FD":9,"MMF":20.6},{"t":"2015-11-10","Obs":9,"FD":9.5,"MMF":12},{"t":"2015-11-14","Obs":7,"FD":10,"MMF":12},{"t":"2015-11-17","Obs":12,"FD":11,"MMF":25},{"t":"2015-11-19","Obs":18.6,"FD":12,"MMF":16},{"t":"2015-11-21","Obs":91,"FD":13,"MMF":91},{"t":"2015-11-23","Obs":31,"FD":14,"MMF":31},{"t":"2015-11-25","Obs":23,"FD":14.3,"MMF":25},{"t":"2015-11-28","Obs":22,"FD":18,"MMF":27},{"t":"2015-11-30","Obs":30,"FD":25,"MMF":35},{"t":"2015-12-02","Obs":132,"FD":45,"MMF":103},{"t":"2015-12-04","Obs":90,"FD":73,"MMF":75},{"t":"2015-12-06","Obs":65,"FD":71,"MMF":50},{"t":"2015-12-08","Obs":40,"FD":68,"MMF":37.6},{"t":"2015-12-11","Obs":37.6,"FD":65,"MMF":38},{"t":"2015-12-14","Obs":50,"FD":63,"MMF":44},{"t":"2015-12-17","Obs":35.5,"FD":61,"MMF":35},{"t":"2015-12-20","Obs":40,"FD":58,"MMF":36},{"t":"2015-12-23","Obs":32,"FD":56,"MMF":30},{"t":"2015-12-26","Obs":29,"FD":54,"MMF":28},{"t":"2015-12-30","Obs":24,"FD":50,"MMF":24},{"t":"2016-01-03","Obs":20.6,"FD":46,"MMF":22},{"t":"2016-01-07","Obs":27,"FD":42,"MMF":27},{"t":"2016-01-10","Obs":35,"FD":40,"MMF":52},{"t":"2016-01-12","Obs":70,"FD":42,"MMF":60},{"t":"2016-01-14","Obs":98.7,"FD":45,"MMF":67},{"t":"2016-01-16","Obs":75,"FD":52,"MMF":52},{"t":"2016-01-18","Obs":61,"FD":56.5,"MMF":44},{"t":"2016-01-21","Obs":40,"FD":60,"MMF":31},{"t":"2016-01-24","Obs":31,"FD":59,"MMF":27},{"t":"2016-01-27","Obs":42,"FD":58.7,"MMF":56.5},{"t":"2016-01-30","Obs":52,"FD":60,"MMF":73},{"t":"2016-02-01","Obs":94.5,"FD":98.7,"MMF":70},{"t":"2016-02-03","Obs":80,"FD":128,"MMF":60},{"t":"2016-02-07","Obs":69,"FD":124,"MMF":50},{"t":"2016-02-10","Obs":101.7,"FD":134.6,"MMF":77.6},{"t":"2016-02-12","Obs":85,"FD":128,"MMF":60},{"t":"2016-02-14","Obs":82,"FD":124,"MMF":52},{"t":"2016-02-16","Obs":94.5,"FD":145,"MMF":65},{"t":"2016-02-18","Obs":75,"FD":135,"MMF":55},{"t":"2016-02-20","Obs":61,"FD":124,"MMF":48},{"t":"2016-02-22","Obs":128,"FD":160,"MMF":101},{"t":"2016-02-24","Obs":100,"FD":162,"MMF":60},{"t":"2016-02-26","Obs":80,"FD":155,"MMF":44},{"t":"2016-02-29","Obs":65,"FD":135,"MMF":50},{"t":"2016-03-04","Obs":84,"FD":120,"MMF":63},{"t":"2016-03-06","Obs":65,"FD":110,"MMF":55},{"t":"2016-03-09","Obs":56,"FD":103,"MMF":52},{"t":"2016-03-12","Obs":48,"FD":98,"MMF":42},{"t":"2016-03-16","Obs":42,"FD":94,"MMF":35.5},{"t":"2016-03-20","Obs":36,"FD":86,"MMF":31},{"t":"2016-03-24","Obs":34,"FD":75,"MMF":25},{"t":"2016-03-28","Obs":33,"FD":69,"MMF":30},{"t":"2016-03-30","Obs":37.6,"FD":69,"MMF":52},{"t":"2016-04-01","Obs":42,"FD":69,"MMF":56},{"t":"2016-04-03","Obs":35,"FD":69,"MMF":40},{"t":"2016-04-06","Obs":27,"FD":65,"MMF":23},{"t":"2016-04-10","Obs":25,"FD":60,"MMF":20},{"t":"2016-04-13","Obs":23.6,"FD":56.5,"MMF":18.6},{"t":"2016-04-15","Obs":10,"FD":54,"MMF":20},{"t":"2016-04-16","Obs":40,"FD":50,"MMF":30},{"t":"2016-04-18","Obs":27,"FD":48,"MMF":44},{"t":"2016-04-20","Obs":27,"FD":52,"MMF":28},{"t":"2016-04-23","Obs":27,"FD":54.4,"MMF":23},{"t":"2016-04-27","Obs":27,"FD":52,"MMF":28},{"t":"2016-05-01","Obs":24,"FD":49,"MMF":18},{"t":"2016-05-04","Obs":20.6,"FD":46,"MMF":12},{"t":"2016-05-09","Obs":18,"FD":40,"MMF":11},{"t":"2016-05-14","Obs":16.5,"FD":35.5,"MMF":10},{"t":"2016-05-19","Obs":15,"FD":30.4,"MMF":8},{"t":"2016-05-24","Obs":16.5,"FD":25,"MMF":6.8},{"t":"2016-05-27","Obs":29,"FD":25,"MMF":25},{"t":"2016-05-30","Obs":32,"FD":30,"MMF":30},{"t":"2016-06-01","Obs":37.6,"FD":37.6,"MMF":46},{"t":"2016-06-03","Obs":45,"FD":45,"MMF":60},{"t":"2016-06-04","Obs":58.7,"FD":50,"MMF":77.6},{"t":"2016-06-06","Obs":45,"FD":52,"MMF":35},{"t":"2016-06-08","Obs":40,"FD":53,"MMF":27},{"t":"2016-06-12","Obs":37.6,"FD":54.4,"MMF":31},{"t":"2016-06-15","Obs":56.5,"FD":60,"MMF":56.5},{"t":"2016-06-17","Obs":65,"FD":65,"MMF":80},{"t":"2016-06-18","Obs":77.6,"FD":70,"MMF":106},{"t":"2016-06-19","Obs":60,"FD":80,"MMF":60},{"t":"2016-06-21","Obs":40,"FD":94.5,"MMF":31},{"t":"2016-06-24","Obs":38,"FD":86,"MMF":27},{"t":"2016-06-27","Obs":35.5,"FD":77.6,"MMF":23},{"t":"2016-07-01","Obs":30,"FD":66,"MMF":17},{"t":"2016-07-04","Obs":27,"FD":58.7,"MMF":14.3},{"t":"2016-07-08","Obs":26,"FD":50,"MMF":12},{"t":"2016-07-11","Obs":25,"FD":42,"MMF":10},{"t":"2016-07-13","Obs":27,"FD":35.5,"MMF":14},{"t":"2016-07-14","Obs":61,"FD":60,"MMF":80},{"t":"2016-07-15","Obs":50,"FD":68,"MMF":118},{"t":"2016-07-16","Obs":40,"FD":72,"MMF":45},{"t":"2016-07-18","Obs":31,"FD":72.6,"MMF":27},{"t":"2016-07-21","Obs":35,"FD":66,"MMF":30},{"t":"2016-07-23","Obs":40,"FD":63,"MMF":35.5},{"t":"2016-07-26","Obs":35,"FD":62,"MMF":35},{"t":"2016-07-28","Obs":33,"FD":61.6,"MMF":40},{"t":"2016-07-31","Obs":31,"FD":71,"MMF":35},{"t":"2016-08-03","Obs":33,"FD":70,"MMF":30},{"t":"2016-08-05","Obs":35.5,"FD":69,"MMF":54.4},{"t":"2016-08-07","Obs":28,"FD":68,"MMF":25},{"t":"2016-08-10","Obs":20.6,"FD":65,"MMF":18.6},{"t":"2016-08-14","Obs":18,"FD":58,"MMF":16},{"t":"2016-08-18","Obs":16.5,"FD":50,"MMF":14.3},{"t":"2016-08-23","Obs":14,"FD":42,"MMF":12},{"t":"2016-08-28","Obs":12,"FD":35.5,"MMF":10},{"t":"2016-09-02","Obs":11,"FD":30,"MMF":9},{"t":"2016-09-07","Obs":10,"FD":25,"MMF":8},{"t":"2016-09-11","Obs":9,"FD":20,"MMF":7},{"t":"2016-09-15","Obs":8,"FD":16.5,"MMF":6},{"t":"2016-09-17","Obs":15,"FD":17,"MMF":40},{"t":"2016-09-18","Obs":44,"FD":18.6,"MMF":132.5},{"t":"2016-09-20","Obs":31,"FD":29,"MMF":44},{"t":"2016-09-23","Obs":18.6,"FD":42,"MMF":20.6},{"t":"2016-09-27","Obs":14.3,"FD":40,"MMF":13.5},{"t":"2016-10-01","Obs":13.5,"FD":36,"MMF":12}]
},
"resolve":{"scale":{"color":"shared"},"legend":{"color":"shared"}},
"spacing":-1,
"vconcat":[
{"title":{"text":"(a)","anchor":"start","fontSize":23,"dx":-40,"offset":6},"bounds":"flush","spacing":20,"vconcat":[
 {"width":504,"height":39,"title":{"text":"Iller - Kempten","anchor":"middle","frame":"group","dx":-30,"offset":-12,"fontSize":23},"data":{"name":"pa"},"mark":{"type":"bar","color":"#000","width":1.6},
  "encoding":{"x":{"field":"t","type":"temporal","scale":{"type":"utc","domain":[{"year":2015,"month":10,"date":1,"utc":true},{"year":2016,"month":10,"date":1,"utc":true}]},"axis":{"orient":"top","labels":false,"ticks":false,"grid":false,"title":null}},
   "y":{"field":"p","type":"quantitative","scale":{"domain":[0,20],"reverse":true,"nice":false},"axis":{"values":[0,20],"title":"P (mm h⁻¹)","offset":11,"titleX":-55}}}},
 {"width":504,"height":157,"data":{"name":"qa"},"transform":[{"fold":["Obs","FD","MMF"],"as":["model","q"]}],"mark":{"type":"line","strokeJoin":"round"},
  "encoding":{"x":{"field":"t","type":"temporal","scale":{"type":"utc","domain":[{"year":2015,"month":10,"date":1,"utc":true},{"year":2016,"month":10,"date":1,"utc":true}]},"axis":{"values":[{"year":2015,"month":10,"date":1,"utc":true},{"year":2015,"month":11,"date":1,"utc":true},{"year":2015,"month":12,"date":1,"utc":true},{"year":2016,"month":1,"date":1,"utc":true},{"year":2016,"month":2,"date":1,"utc":true},{"year":2016,"month":3,"date":1,"utc":true},{"year":2016,"month":4,"date":1,"utc":true},{"year":2016,"month":5,"date":1,"utc":true},{"year":2016,"month":6,"date":1,"utc":true},{"year":2016,"month":7,"date":1,"utc":true},{"year":2016,"month":8,"date":1,"utc":true},{"year":2016,"month":9,"date":1,"utc":true},{"year":2016,"month":10,"date":1,"utc":true}],"offset":11,"title":null,"labelExpr":"utcmonth(datum.value)==0 ? ['Jan','2016'] : (utcmonth(datum.value)%3==0 ? utcFormat(datum.value,'%b') : '')","labelLineHeight":18.5,"grid":true,"gridOpacity":{"condition":{"test":"utcmonth(datum.value)==0","value":1},"value":0}}},
   "y":{"field":"q","type":"quantitative","scale":{"domain":[0,400],"nice":false},"axis":{"values":[0,100,200,300,400],"title":"Q (m³ s⁻¹)","offset":11,"titleX":-55}},
   "color":{"field":"model","type":"nominal","scale":{"domain":["Obs","FD","MMF"],"range":["#000000","#56569e","#ee6b7c"]},"legend":{"title":null,"orient":"none","legendX":-81,"legendY":1239,"direction":"horizontal","symbolType":"stroke","symbolSize":484,"symbolStrokeWidth":1.6,"labelFontSize":20,"labelOffset":10,"columnPadding":181,"gridAlign":"all","padding":6,"strokeColor":"#d4d4d4","fillColor":"white","labelColor":"#000"}},
   "strokeWidth":{"condition":{"test":"datum.model==='Obs'","value":1.9},"value":1.2}}}
]},
{"title":{"text":"(b)","anchor":"start","fontSize":23,"dx":-40,"offset":-6},"bounds":"flush","spacing":20,"vconcat":[
 {"width":504,"height":39,"title":{"text":"Mangfall - Rosenheim","anchor":"middle","frame":"group","dx":-30,"offset":-12,"fontSize":23},"data":{"name":"pb"},"mark":{"type":"bar","color":"#000","width":1.6},
  "encoding":{"x":{"field":"t","type":"temporal","scale":{"type":"utc","domain":[{"year":2015,"month":10,"date":1,"utc":true},{"year":2016,"month":10,"date":1,"utc":true}]},"axis":{"orient":"top","labels":false,"ticks":false,"grid":false,"title":null}},
   "y":{"field":"p","type":"quantitative","scale":{"domain":[0,10],"reverse":true,"nice":false},"axis":{"values":[0,10],"title":"P (mm h⁻¹)","offset":11,"titleX":-55}}}},
 {"width":504,"height":157,"data":{"name":"qb"},"transform":[{"fold":["Obs","FD","MMF"],"as":["model","q"]}],"mark":{"type":"line","strokeJoin":"round"},
  "encoding":{"x":{"field":"t","type":"temporal","scale":{"type":"utc","domain":[{"year":2015,"month":10,"date":1,"utc":true},{"year":2016,"month":10,"date":1,"utc":true}]},"axis":{"values":[{"year":2015,"month":10,"date":1,"utc":true},{"year":2015,"month":11,"date":1,"utc":true},{"year":2015,"month":12,"date":1,"utc":true},{"year":2016,"month":1,"date":1,"utc":true},{"year":2016,"month":2,"date":1,"utc":true},{"year":2016,"month":3,"date":1,"utc":true},{"year":2016,"month":4,"date":1,"utc":true},{"year":2016,"month":5,"date":1,"utc":true},{"year":2016,"month":6,"date":1,"utc":true},{"year":2016,"month":7,"date":1,"utc":true},{"year":2016,"month":8,"date":1,"utc":true},{"year":2016,"month":9,"date":1,"utc":true},{"year":2016,"month":10,"date":1,"utc":true}],"offset":11,"title":null,"labelExpr":"utcmonth(datum.value)==0 ? ['Jan','2016'] : (utcmonth(datum.value)%3==0 ? utcFormat(datum.value,'%b') : '')","labelLineHeight":18.5,"grid":true,"gridOpacity":{"condition":{"test":"utcmonth(datum.value)==0","value":1},"value":0}}},
   "y":{"field":"q","type":"quantitative","scale":{"domain":[0,100],"nice":false},"axis":{"values":[0,25,50,75,100],"title":"Q (m³ s⁻¹)","offset":11,"titleX":-55}},
   "color":{"field":"model","type":"nominal","scale":{"domain":["Obs","FD","MMF"],"range":["#000000","#56569e","#ee6b7c"]},"legend":{"title":null,"orient":"none","legendX":-81,"legendY":1239,"direction":"horizontal","symbolType":"stroke","symbolSize":484,"symbolStrokeWidth":1.6,"labelFontSize":20,"labelOffset":10,"columnPadding":181,"gridAlign":"all","padding":6,"strokeColor":"#d4d4d4","fillColor":"white","labelColor":"#000"}},
   "strokeWidth":{"condition":{"test":"datum.model==='Obs'","value":1.9},"value":1.2}}}
]},
{"title":{"text":"(c)","anchor":"start","fontSize":23,"dx":-40,"offset":-6},"bounds":"flush","spacing":20,"vconcat":[
 {"width":504,"height":39,"title":{"text":"Wörnitz - Harburg","anchor":"middle","frame":"group","dx":-30,"offset":-12,"fontSize":23},"data":{"name":"pc"},"mark":{"type":"bar","color":"#000","width":1.6},
  "encoding":{"x":{"field":"t","type":"temporal","scale":{"type":"utc","domain":[{"year":2015,"month":10,"date":1,"utc":true},{"year":2016,"month":10,"date":1,"utc":true}]},"axis":{"orient":"top","labels":false,"ticks":false,"grid":false,"title":null}},
   "y":{"field":"p","type":"quantitative","scale":{"domain":[0,20],"reverse":true,"nice":false},"axis":{"values":[0,20],"title":"P (mm h⁻¹)","offset":11,"titleX":-55}}}},
 {"width":504,"height":157,"data":{"name":"qc"},"transform":[{"fold":["Obs","FD","MMF"],"as":["model","q"]}],"mark":{"type":"line","strokeJoin":"round"},
  "encoding":{"x":{"field":"t","type":"temporal","scale":{"type":"utc","domain":[{"year":2015,"month":10,"date":1,"utc":true},{"year":2016,"month":10,"date":1,"utc":true}]},"axis":{"values":[{"year":2015,"month":10,"date":1,"utc":true},{"year":2015,"month":11,"date":1,"utc":true},{"year":2015,"month":12,"date":1,"utc":true},{"year":2016,"month":1,"date":1,"utc":true},{"year":2016,"month":2,"date":1,"utc":true},{"year":2016,"month":3,"date":1,"utc":true},{"year":2016,"month":4,"date":1,"utc":true},{"year":2016,"month":5,"date":1,"utc":true},{"year":2016,"month":6,"date":1,"utc":true},{"year":2016,"month":7,"date":1,"utc":true},{"year":2016,"month":8,"date":1,"utc":true},{"year":2016,"month":9,"date":1,"utc":true},{"year":2016,"month":10,"date":1,"utc":true}],"offset":11,"title":null,"labelExpr":"utcmonth(datum.value)==0 ? ['Jan','2016'] : (utcmonth(datum.value)%3==0 ? utcFormat(datum.value,'%b') : '')","labelLineHeight":18.5,"grid":true,"gridOpacity":{"condition":{"test":"utcmonth(datum.value)==0","value":1},"value":0}}},
   "y":{"field":"q","type":"quantitative","scale":{"domain":[0,60],"nice":false},"axis":{"values":[0,20,40,60],"title":"Q (m³ s⁻¹)","offset":11,"titleX":-55}},
   "color":{"field":"model","type":"nominal","scale":{"domain":["Obs","FD","MMF"],"range":["#000000","#56569e","#ee6b7c"]},"legend":{"title":null,"orient":"none","legendX":-81,"legendY":1239,"direction":"horizontal","symbolType":"stroke","symbolSize":484,"symbolStrokeWidth":1.6,"labelFontSize":20,"labelOffset":10,"columnPadding":181,"gridAlign":"all","padding":6,"strokeColor":"#d4d4d4","fillColor":"white","labelColor":"#000"}},
   "strokeWidth":{"condition":{"test":"datum.model==='Obs'","value":1.9},"value":1.2}}}
]},
{"title":{"text":"(d)","anchor":"start","fontSize":23,"dx":-40,"offset":-6},"bounds":"flush","spacing":20,"vconcat":[
 {"width":504,"height":39,"title":{"text":"Naab - Münchshofen","anchor":"middle","frame":"group","dx":-30,"offset":-12,"fontSize":23},"data":{"name":"pd"},"mark":{"type":"bar","color":"#000","width":1.6},
  "encoding":{"x":{"field":"t","type":"temporal","scale":{"type":"utc","domain":[{"year":2015,"month":10,"date":1,"utc":true},{"year":2016,"month":10,"date":1,"utc":true}]},"axis":{"orient":"top","labels":false,"ticks":false,"grid":false,"title":null}},
   "y":{"field":"p","type":"quantitative","scale":{"domain":[0,10],"reverse":true,"nice":false},"axis":{"values":[0,10],"title":"P (mm h⁻¹)","offset":11,"titleX":-55}}}},
 {"width":504,"height":157,"data":{"name":"qd"},"transform":[{"fold":["Obs","FD","MMF"],"as":["model","q"]}],"mark":{"type":"line","strokeJoin":"round"},
  "encoding":{"x":{"field":"t","type":"temporal","scale":{"type":"utc","domain":[{"year":2015,"month":10,"date":1,"utc":true},{"year":2016,"month":10,"date":1,"utc":true}]},"axis":{"values":[{"year":2015,"month":10,"date":1,"utc":true},{"year":2015,"month":11,"date":1,"utc":true},{"year":2015,"month":12,"date":1,"utc":true},{"year":2016,"month":1,"date":1,"utc":true},{"year":2016,"month":2,"date":1,"utc":true},{"year":2016,"month":3,"date":1,"utc":true},{"year":2016,"month":4,"date":1,"utc":true},{"year":2016,"month":5,"date":1,"utc":true},{"year":2016,"month":6,"date":1,"utc":true},{"year":2016,"month":7,"date":1,"utc":true},{"year":2016,"month":8,"date":1,"utc":true},{"year":2016,"month":9,"date":1,"utc":true},{"year":2016,"month":10,"date":1,"utc":true}],"offset":11,"title":null,"labelExpr":"utcmonth(datum.value)==0 ? ['Jan','2016'] : (utcmonth(datum.value)%3==0 ? utcFormat(datum.value,'%b') : '')","labelLineHeight":18.5,"grid":true,"gridOpacity":{"condition":{"test":"utcmonth(datum.value)==0","value":1},"value":0}}},
   "y":{"field":"q","type":"quantitative","scale":{"domain":[0,200],"nice":false},"axis":{"values":[0,50,100,150,200],"title":"Q (m³ s⁻¹)","offset":11,"titleX":-55}},
   "color":{"field":"model","type":"nominal","scale":{"domain":["Obs","FD","MMF"],"range":["#000000","#56569e","#ee6b7c"]},"legend":{"title":null,"orient":"none","legendX":-81,"legendY":1239,"direction":"horizontal","symbolType":"stroke","symbolSize":484,"symbolStrokeWidth":1.6,"labelFontSize":20,"labelOffset":10,"columnPadding":181,"gridAlign":"all","padding":6,"strokeColor":"#d4d4d4","fillColor":"white","labelColor":"#000"}},
   "strokeWidth":{"condition":{"test":"datum.model==='Obs'","value":1.9},"value":1.2}}}
]}
]
}
